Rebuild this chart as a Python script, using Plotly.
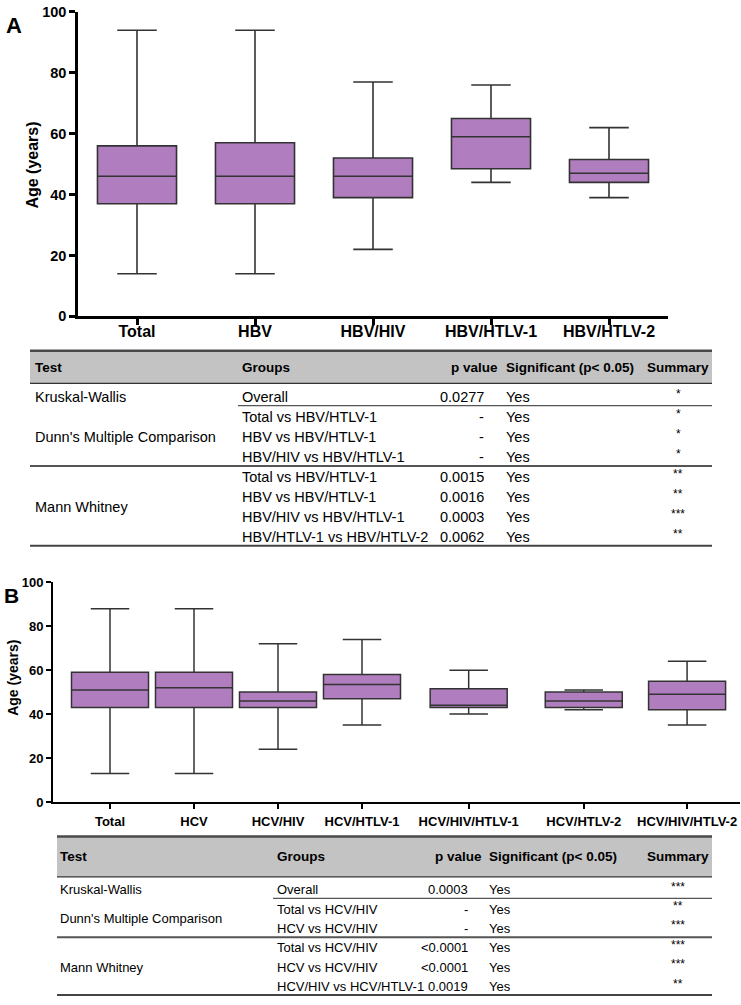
import plotly.graph_objects as go

# ---------------- data ----------------
cats_a = ["Total", "HBV", "HBV/HIV", "HBV/HTLV-1", "HBV/HTLV-2"]
min_a = [14, 14, 22, 44, 39]
q1_a = [37, 37, 39, 48.5, 44]
med_a = [46, 46, 46, 59, 47]
q3_a = [56, 57, 52, 65, 51.5]
max_a = [94, 94, 77, 76, 62]

cats_b = ["Total", "HCV", "HCV/HIV", "HCV/HTLV-1", "HCV/HIV/HTLV-1", "HCV/HTLV-2", "HCV/HIV/HTLV-2"]
min_b = [13, 13, 24, 35, 40, 42, 35]
q1_b = [43, 43, 43, 47, 43, 43, 42]
med_b = [51, 52, 46, 53.5, 44, 46, 49]
q3_b = [59, 59, 50, 58, 51.5, 50, 55]
max_b = [88, 88, 72, 74, 60, 51, 64]

y_ticks = [0, 20, 40, 60, 80, 100]

header = ["Test", "Groups", "p value", "Significant (p< 0.05)", "Summary"]

tab_a_groups = ["Overall", "Total vs HBV/HTLV-1", "HBV vs HBV/HTLV-1", "HBV/HIV vs HBV/HTLV-1",
                "Total vs HBV/HTLV-1", "HBV vs HBV/HTLV-1", "HBV/HIV vs HBV/HTLV-1", "HBV/HTLV-1 vs HBV/HTLV-2"]
tab_a_p = ["0.0277", "-", "-", "-", "0.0015", "0.0016", "0.0003", "0.0062"]
tab_a_sig = ["Yes"] * 8
tab_a_sum = ["*", "*", "*", "*", "**", "**", "***", "**"]
tab_a_tests = [("Kruskal-Wallis", 0, 0), ("Dunn's Multiple Comparison", 1, 3), ("Mann Whitney", 4, 7)]

tab_b_groups = ["Overall", "Total vs HCV/HIV", "HCV vs HCV/HIV",
                "Total vs HCV/HIV", "HCV vs HCV/HIV", "HCV/HIV vs HCV/HTLV-1"]
tab_b_p = ["0.0003", "-", "-", "<0.0001", "<0.0001", "0.0019"]
tab_b_sig = ["Yes"] * 6
tab_b_sum = ["***", "**", "***", "***", "***", "**"]
tab_b_tests = [("Kruskal-Wallis", 0, 0), ("Dunn's Multiple Comparison", 1, 2), ("Mann Whitney", 3, 5)]

# ---------------- layout helpers ----------------
W, H = 741, 1005
def px(x):
    return x / W
def py(y):
    return 1 - y / H

FILL = "#B07EBF"
BOXLINE = "#333333"
FONT = "Liberation Sans, Arial, sans-serif"

pos_a = list(range(len(cats_a)))
pos_b = [0, 1, 2, 3, 4.27, 5.64, 6.87]

fig = go.Figure()

fig.add_trace(go.Box(
    x=pos_a, q1=q1_a, median=med_a, q3=q3_a, lowerfence=min_a, upperfence=max_a,
    fillcolor=FILL, line=dict(color=BOXLINE, width=1.6), width=0.67, whiskerwidth=0.5,
    boxpoints=False, xaxis="x", yaxis="y", showlegend=False, hoverinfo="skip",
))
fig.add_trace(go.Box(
    x=pos_b, q1=q1_b, median=med_b, q3=q3_b, lowerfence=min_b, upperfence=max_b,
    fillcolor=FILL, line=dict(color=BOXLINE, width=1.5), width=0.917, whiskerwidth=0.5,
    boxpoints=False, xaxis="x2", yaxis="y2", showlegend=False, hoverinfo="skip",
))

axis_common = dict(showline=True, linecolor="black", ticks="outside", tickcolor="black",
                   showgrid=False, zeroline=False, fixedrange=True)

fig.update_layout(
    width=W, height=H, autosize=False,
    margin=dict(l=0, r=0, t=0, b=0),
    paper_bgcolor="white", plot_bgcolor="white",
    font=dict(family=FONT, color="black"),
    xaxis=dict(domain=[px(78), px(668)], range=[-0.5, 4.5], tickvals=pos_a, ticktext=cats_a,
               linewidth=2.5, tickwidth=2.5, ticklen=6, anchor="y", tickangle=0,
               ticklabelstandoff=-7,
               tickfont=dict(size=16, weight="bold", family=FONT), **axis_common),
    yaxis=dict(domain=[py(314), py(5)], range=[0, 100], tickvals=y_ticks,
               linewidth=2.5, tickwidth=2.5, ticklen=6, anchor="x",
               tickfont=dict(size=14.5, weight="bold", family=FONT), **axis_common),
    xaxis2=dict(domain=[px(53), px(740)], range=[(53 - 110) / 84, (740 - 110) / 84],
                tickvals=pos_b, ticktext=cats_b, linewidth=2, tickwidth=2, ticklen=5,
                anchor="y2", tickangle=0, ticklabelstandoff=1,
                tickfont=dict(size=13, weight="bold", family=FONT), **axis_common),
    yaxis2=dict(domain=[py(807), py(584)], range=[0, 100], tickvals=y_ticks,
                linewidth=2, tickwidth=2, ticklen=5, anchor="x2",
                tickfont=dict(size=13, weight="bold", family=FONT), **axis_common),
)

annotations = []
shapes = []

def txt(x, y, s, size=14, bold=False, xanchor="left", angle=0, family=FONT):
    annotations.append(dict(
        x=px(x), y=py(y), xref="paper", yref="paper", text=s, showarrow=False,
        xanchor=xanchor, yanchor="middle", textangle=angle,
        font=dict(size=size, family=family, color="black", weight="bold" if bold else "normal"),
    ))

def hline(x0, x1, y, color="#444444", width=1.5):
    shapes.append(dict(type="line", xref="paper", yref="paper", x0=px(x0), x1=px(x1),
                       y0=py(y), y1=py(y), line=dict(color=color, width=width)))

# panel letters & axis titles
txt(4, 19, "A", size=22, bold=True)
txt(2, 597, "B", size=21, bold=True)
txt(33, 161, "Age (years)", size=16, bold=True, xanchor="center", angle=-90)
txt(13, 681, "Age (years)", size=14, bold=True, xanchor="center", angle=-90)

def table(left, right, top, head_bot, cols, row0, step, groups, pv, sig, summ, tests,
          sep_group_after, sep_full_after, bottom, size):
    c_test, c_group, c_p, c_sig, c_sum = cols
    shapes.append(dict(type="rect", xref="paper", yref="paper", x0=px(left), x1=px(right),
                       y0=py(head_bot), y1=py(top), fillcolor="#C3C3C3", line=dict(width=0),
                       layer="below"))
    hline(left, right, top, color="#4a4a4a", width=2.5)
    hline(left, right, head_bot, color="#333333", width=1.2)
    hy = (top + head_bot) / 2
    txt(c_test, hy, header[0], bold=True, size=13.5)
    txt(c_group, hy, header[1], bold=True, size=13.5)
    txt(c_p + 14, hy, header[2], bold=True, xanchor="right", size=13.5)
    txt(c_sig, hy, header[3], bold=True, size=13.5)
    txt(right - 1, hy, header[4], bold=True, xanchor="right", size=13.5)
    ys = [row0 + i * step for i in range(len(groups))]
    for i, y in enumerate(ys):
        txt(c_group, y, groups[i], size=size)
        txt(c_p, y, pv[i], xanchor="right", size=size)
        txt(c_sig, y, sig[i], size=size)
        txt(c_sum, y - 3, summ[i], size=12, xanchor="center")
    for name, a, b in tests:
        txt(c_test, (ys[a] + ys[b]) / 2, name, size=size)
    for i in sep_group_after:
        hline(c_group - 2, right, (ys[i] + ys[i + 1]) / 2 - 1, color="#555555", width=1.3)
    for i in sep_full_after:
        hline(left, right, (ys[i] + ys[i + 1]) / 2 - 1, color="#555555", width=2)
    hline(left, right, bottom, color="#444444", width=2)

table(30, 712, 349, 382, (33, 240, 486, 504, 678), 395.5, 20.4,
      tab_a_groups, tab_a_p, tab_a_sig, tab_a_sum, tab_a_tests, [0], [3], 547, 14.5)
table(57, 712, 842, 883, (58, 275, 470, 487, 678), 896, 19.7,
      tab_b_groups, tab_b_p, tab_b_sig, tab_b_sum, tab_b_tests, [0], [2], 1003, 13)

fig.update_layout(annotations=annotations, shapes=shapes)
fig.write_html(
    "out.html",
    config={"displayModeBar": False, "responsive": False},
    post_script=(
        "document.documentElement.style.margin='0';"
        "document.body.style.margin='0';document.body.style.overflow='hidden';"
    ),
)
